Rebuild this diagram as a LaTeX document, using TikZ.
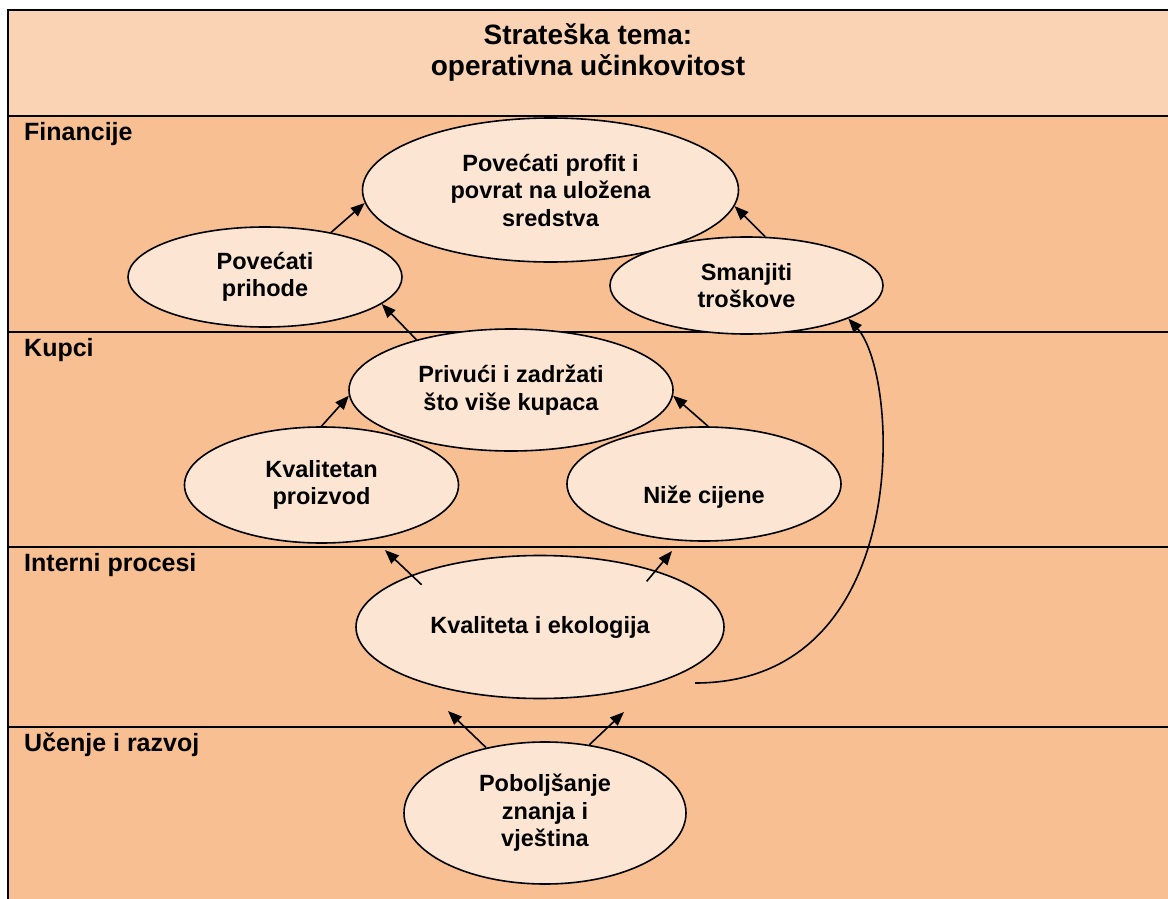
\documentclass[tikz,border=0pt]{standalone}
\usepackage{fontspec}
\setmainfont{Liberation Sans}
\usetikzlibrary{shapes.geometric,arrows.meta,calc}
\definecolor{bandlight}{HTML}{FAD3B4}
\definecolor{band}{HTML}{F8BF93}
\definecolor{ellfill}{HTML}{FCE5D2}
\begin{document}
\begin{tikzpicture}[x=1pt,y=-1pt,
  goal/.style={ellipse, draw=black, line width=1.6pt, fill=ellfill, inner sep=0pt, align=center,
    font=\fontsize{23.5}{27.5}\selectfont\bfseries},
  lane/.style={anchor=base west, inner sep=0pt, font=\fontsize{25}{30}\selectfont\bfseries},
  sepline/.style={line width=2.4pt},
  arr/.style={line width=1.6pt, -{Triangle[length=14pt,width=11pt]}}
]
\useasboundingbox (0,0) rectangle (1168,899);
\fill[white] (0,0) rectangle (1168,899);
\fill[bandlight] (8,10) rectangle (1168,116);
\fill[band] (8,116) rectangle (1168,899);
\draw[sepline, line join=miter] (8,899) -- (8,10) -- (1168,10);
\draw[sepline] (8,116) -- (1168,116);
\draw[sepline] (8,332) -- (1168,332);
\draw[sepline] (8,547) -- (1168,547);
\draw[sepline] (8,727) -- (1168,727);

\node[font=\fontsize{28}{31}\selectfont\bfseries, align=center, inner sep=0pt] (title) at (588,52.5) {Strateška tema:\\operativna učinkovitost};

\node[lane] (fin) at (24,140) {Financije};
\node[lane] (kup) at (24,356) {Kupci};
\node[lane] (int) at (24,571) {Interni procesi};
\node[lane] (uce) at (24,751) {Učenje i razvoj};

\node[goal, minimum width=376pt, minimum height=144pt] (profit) at (550.5,190) {Povećati profit i\\povrat na uložena\\sredstva};
\node[goal, minimum width=274pt, minimum height=100pt] (prihode) at (265,277) {Povećati\\prihode};
\node[goal, minimum width=273pt, minimum height=97pt] (smanjiti) at (746.5,285.5) {Smanjiti\\troškove};
\node[goal, minimum width=324pt, minimum height=122pt] (privuci) at (511,390) {Privući i zadržati\\što više kupaca};
\node[goal, minimum width=274pt, minimum height=116pt] (kvalitetan) at (321.5,485) {Kvalitetan\\proizvod};
\node[goal, minimum width=274pt, minimum height=114pt] (nize) at (704,484) {\raisebox{-19pt}[0pt][0pt]{Niže cijene}};
\node[goal, minimum width=368pt, minimum height=143pt] (kq) at (540,627) {Kvaliteta i ekologija};
\node[goal, minimum width=282pt, minimum height=142pt] (pob) at (545,813) {Poboljšanje\\znanja i\\vještina};

\draw[arr] (prihode.34) -- (profit.184);
\draw[arr] (smanjiti.69) -- (profit.-5);
\draw[arr] (privuci.152) -- (prihode.-13);
\draw[arr] (kvalitetan.90) -- (privuci.182);
\draw[arr] (nize.86) -- (privuci.-2);
\coordinate (t6) at (385,550);
\draw[arr, shorten <=-14pt] (kq.158) -- (t6);
\coordinate (t7) at (672,551);
\draw[arr, shorten <=-14pt] (kq.26) -- (t7);
\coordinate (t8) at (448,711);
\draw[arr] (pob.132) -- (t8);
\coordinate (t9) at (624,712);
\draw[arr] (pob.57) -- (t9);
\coordinate (cs) at (695,683);
\draw[arr] (cs) .. controls (915,683) and (900,375) .. (smanjiti.-18);
\end{tikzpicture}
\end{document}
